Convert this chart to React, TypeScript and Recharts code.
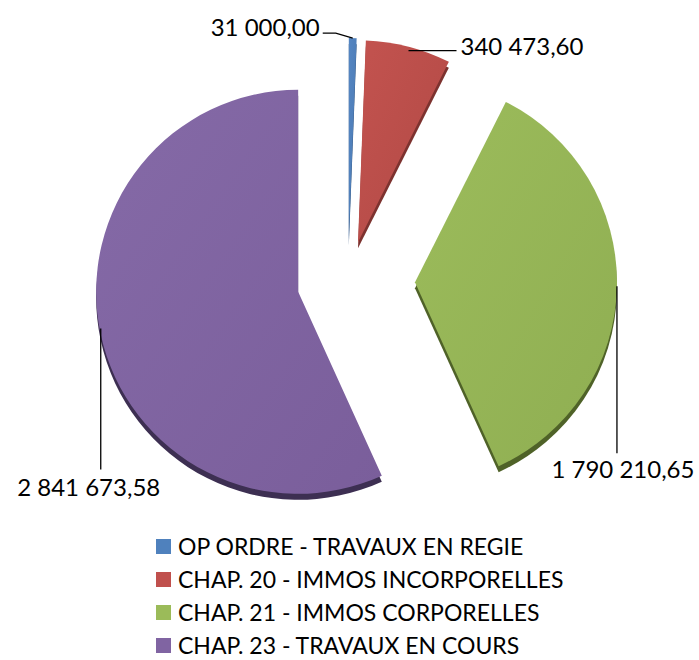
import React from "react";
import { PieChart, Pie, Cell, Legend } from "recharts";

const categories = [
  "OP ORDRE - TRAVAUX EN REGIE",
  "CHAP. 20 - IMMOS INCORPORELLES",
  "CHAP. 21 - IMMOS CORPORELLES",
  "CHAP. 23 - TRAVAUX EN COURS",
];
const amounts = [31000.0, 340473.6, 1790210.65, 2841673.58];

const COLORS = ["#4f81bd", "#c0504d", "#9bbb59", "#8064a2"];
const FACE_LIGHT = ["#5586c2", "#c3534f", "#9cbc5b", "#856aa7"];
const FACE_DARK = ["#4a79b2", "#b14945", "#8fae52", "#7a5e9b"];
const SIDE = ["#2c4d75", "#7d322f", "#4f6228", "#3d2f52"];

const FONT = "Lato, 'Open Sans', sans-serif";
const RAD = Math.PI / 180;
const BASE_X = 348;
const BASE_Y = 281;
const RADIUS = 202;
const DEPTH = 6;
// how far each slice is pulled out of the pie
const EXPLODE = [41, 40, 67, 51];

const pieData = categories.map((name, i) => ({ name, value: amounts[i] }));
const total = amounts.reduce((a, b) => a + b, 0);

// recharts angle convention: 90 = top, going clockwise to -270
const midAngles = amounts.map((v, i) => {
  const before = amounts.slice(0, i).reduce((a, b) => a + b, 0);
  return 90 - (360 * (before + v / 2)) / total;
});
const centers = midAngles.map((m, i) => ({
  x: BASE_X + EXPLODE[i] * Math.cos(-m * RAD),
  y: BASE_Y + EXPLODE[i] * Math.sin(-m * RAD),
}));

const formatAmount = (v: number) => {
  const [int, dec] = v.toFixed(2).split(".");
  return int.replace(/\B(?=(\d{3})+(?!\d))/g, " ") + "," + dec;
};

const makeLabel = (owner: number) => (props: any) => {
  const { cx, cy, midAngle, index } = props;
  if (index !== owner) return null;
  const px = cx + RADIUS * Math.cos(-midAngle * RAD);
  const py = cy + RADIUS * Math.sin(-midAngle * RAD);
  const text = formatAmount(amounts[index]);
  const textProps = { fill: "#000", fontSize: 24, fontFamily: FONT, dominantBaseline: "central" as const };
  if (index === 0) {
    return (
      <g>
        <polyline points={`${px},${py} ${px - 17},${py - 5} ${px - 30},${py - 5}`} fill="none" stroke="#000" strokeWidth={1.3} />
        <text x={px - 33} y={py - 12} textAnchor="end" {...textProps}>{text}</text>
      </g>
    );
  }
  if (index === 1) {
    return (
      <g>
        <line x1={px} y1={py + 4} x2={px + 48} y2={py + 4} stroke="#000" strokeWidth={1.3} />
        <text x={px + 52} y={py - 1} textAnchor="start" {...textProps}>{text}</text>
      </g>
    );
  }
  if (index === 2) {
    return (
      <g>
        <line x1={px} y1={py} x2={px} y2={py + 167} stroke="#000" strokeWidth={1.3} />
        <text x={px + 6} y={py + 182} textAnchor="middle" {...textProps}>{text}</text>
      </g>
    );
  }
  return (
    <g>
      <line x1={px} y1={py - 6} x2={px} y2={py + 135} stroke="#000" strokeWidth={1.3} />
      <text x={px - 12} y={py + 152} textAnchor="middle" {...textProps}>{text}</text>
    </g>
  );
};

const renderLegend = () => (
  <div style={{ fontFamily: FONT, fontSize: 23, color: "#000", lineHeight: 0.8 }}>
    {categories.map((c, i) => (
      <div key={c} style={{ display: "flex", alignItems: "center", height: 33, whiteSpace: "nowrap" }}>
        <span style={{ display: "inline-block", width: 15, height: 15, background: COLORS[i], marginRight: 7 }} />
        <span>{c}</span>
      </div>
    ))}
  </div>
);

export default function App() {
  return (
    <div style={{ position: "absolute", left: 0, top: 0, width: 699, height: 660, background: "#fff" }}>
      <PieChart width={699} height={660} margin={{ top: 0, right: 0, bottom: 0, left: 0 }}>
        <defs>
          {COLORS.map((_, i) => (
            <linearGradient key={i} id={`face${i}`} x1="0" y1="0" x2="1" y2="1">
              <stop offset="0%" stopColor={FACE_LIGHT[i]} />
              <stop offset="100%" stopColor={FACE_DARK[i]} />
            </linearGradient>
          ))}
        </defs>
        {centers.map((c, i) => (
          <Pie
            key={`side${i}`}
            data={pieData}
            dataKey="value"
            nameKey="name"
            cx={c.x}
            cy={c.y + DEPTH}
            outerRadius={RADIUS}
            startAngle={90}
            endAngle={-270}
            stroke="none"
            legendType="none"
            isAnimationActive={false}
          >
            {pieData.map((_, j) => (
              <Cell key={j} fill={j === i ? SIDE[i] : "none"} stroke="none" />
            ))}
          </Pie>
        ))}
        {centers.map((c, i) => (
          <Pie
            key={`face${i}`}
            data={pieData}
            dataKey="value"
            nameKey="name"
            cx={c.x}
            cy={c.y}
            outerRadius={RADIUS}
            startAngle={90}
            endAngle={-270}
            stroke="none"
            legendType="none"
            label={makeLabel(i)}
            labelLine={false}
            isAnimationActive={false}
          >
            {pieData.map((_, j) => (
              <Cell key={j} fill={j === i ? `url(#face${i})` : "none"} stroke="none" />
            ))}
          </Pie>
        ))}
        <Legend
          layout="vertical"
          verticalAlign="bottom"
          align="center"
          content={renderLegend}
          wrapperStyle={{ top: 530, left: 156, bottom: "auto", width: "auto" }}
        />
      </PieChart>
    </div>
  );
}
